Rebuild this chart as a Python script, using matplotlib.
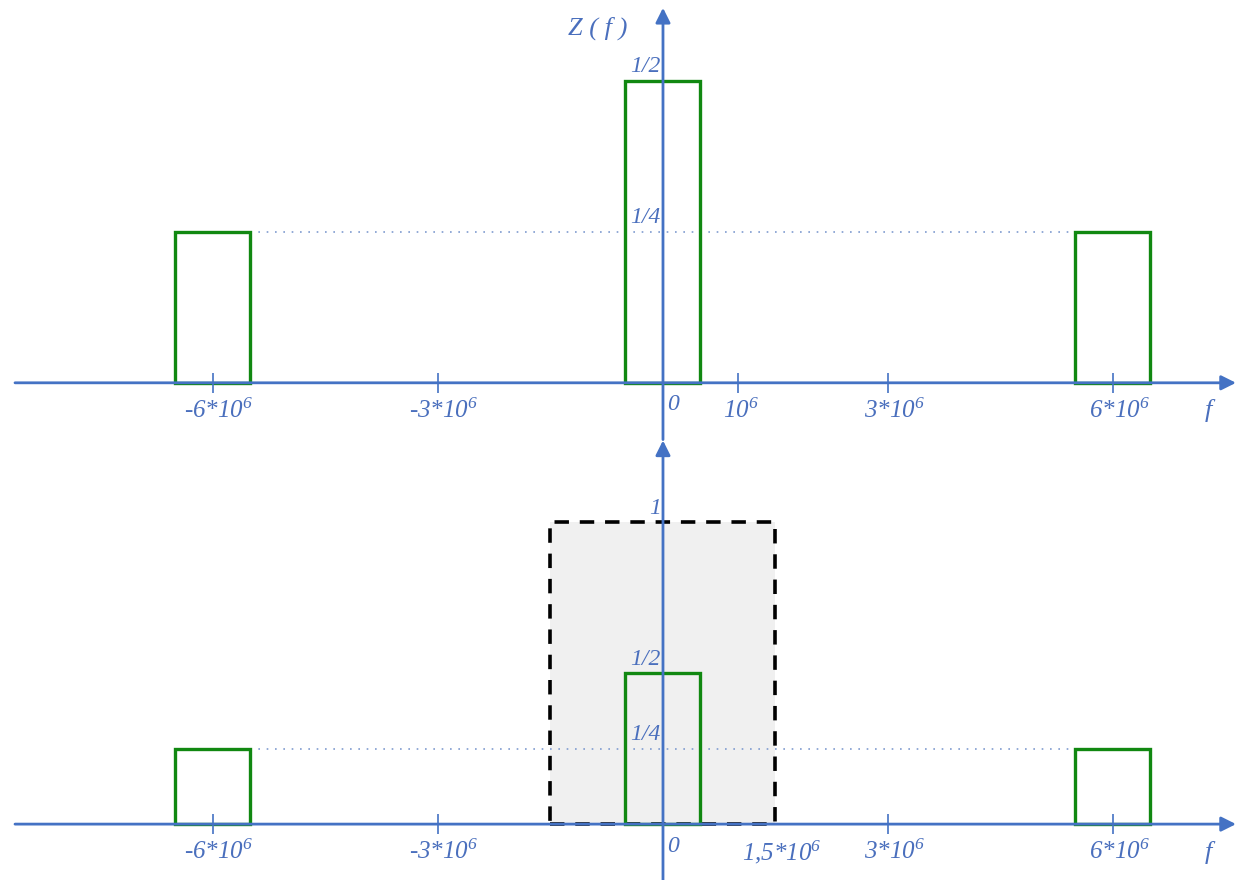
import matplotlib
matplotlib.use('Agg')
import matplotlib.pyplot as plt

plt.rcParams['mathtext.fontset'] = 'custom'
plt.rcParams['mathtext.rm'] = 'Liberation Serif:italic'
plt.rcParams['mathtext.it'] = 'Liberation Serif:italic'
plt.rcParams['mathtext.default'] = 'it'

# spectrum data
centres = [-6e6, 0, 6e6]
band_width = 1e6
heights_top = [0.25, 0.5, 0.25]
heights_bottom = [0.25, 0.5, 0.25]
filter_cut = 1.5e6
filter_gain = 1.0

# ticks and labels
tickmarks_top = [-6e6, -3e6, 1e6, 3e6, 6e6]
ticklabels_top = [(-6e6, r'-$6{*}10^{6}$'), (-3e6, r'-$3{*}10^{6}$'), (0, '0'),
                  (1e6, r'$10^{6}$'), (3e6, r'$3{*}10^{6}$'), (6e6, r'$6{*}10^{6}$')]
tickmarks_bottom = [-6e6, -3e6, 3e6, 6e6]
ticklabels_bottom = [(-6e6, r'-$6{*}10^{6}$'), (-3e6, r'-$3{*}10^{6}$'), (0, '0'),
                     (1.5e6, r'$1{,}5{*}10^{6}$'), (3e6, r'$3{*}10^{6}$'),
                     (6e6, r'$6{*}10^{6}$')]
ylabels_top = [(0.5, '1/2'), (0.25, '1/4')]
ylabels_bottom = [(1.0, '1'), (0.5, '1/2'), (0.25, '1/4')]

BLUE = '#4472C4'
TXT = '#4a6fbd'
GREEN = '#118811'
FONT = ['Liberation Serif', 'DejaVu Serif']

fig = plt.figure(figsize=(12.38, 8.8), dpi=100)
h = 445 / 880
ax1 = fig.add_axes([0, 1 - h, 1, h])
ax2 = fig.add_axes([0, 0, 1, h])

XL = (-8.84e6, 7.667e6)
ax1.set_xlim(*XL)
ax1.set_ylim(-0.103, 0.634)
ax2.set_xlim(*XL)
ax2.set_ylim(-0.185, 1.288)


def draw_panel(ax, heights, tickmarks, ticklabels, ylabels, ytip, ybot, tick_len):
    ax.axis('off')
    ax.bar(centres, heights, width=band_width, fill=False, edgecolor=GREEN,
           linewidth=2.4, zorder=3)
    ax.plot([centres[0] + band_width / 2, centres[-1] - band_width / 2],
            [heights[0], heights[-1]], color='#7f9bd0', linestyle=(0, (1, 4)),
            linewidth=1.2, zorder=2)
    # axes with arrows
    ax.annotate('', xy=(7.64e6, 0), xytext=(-8.64e6, 0),
                arrowprops=dict(arrowstyle='-|>', color=BLUE, lw=2,
                                mutation_scale=22, shrinkA=0, shrinkB=0), zorder=5)
    ax.annotate('', xy=(0, ytip), xytext=(0, ybot),
                arrowprops=dict(arrowstyle='-|>', color=BLUE, lw=2,
                                mutation_scale=22, shrinkA=0, shrinkB=0), zorder=5)
    ax.vlines(tickmarks, -tick_len, tick_len, color=BLUE, linewidth=1.2, zorder=5)
    for x, lab in ticklabels:
        if x == 0:
            ax.annotate(lab, xy=(x, 0), xytext=(4, -22), textcoords='offset pixels',
                        ha='left', va='center', fontsize=17, style='italic',
                        color=TXT, family=FONT)
        else:
            ax.annotate(lab, xy=(x, 0), xytext=(6 if '*' in lab else 3, -28),
                        textcoords='offset pixels', ha='center', va='center',
                        fontsize=18, style='italic', color=TXT, family=FONT)
    ax.annotate('f', xy=(XL[1], 0), xytext=(-30, -28), textcoords='offset pixels',
                ha='center', va='center', fontsize=19, style='italic',
                color=TXT, family=FONT)
    for y, lab in ylabels:
        ax.annotate(lab, xy=(0, y), xytext=(-2, 14), textcoords='offset pixels',
                    ha='right', va='center', fontsize=17, style='italic',
                    color=TXT, family=FONT)


# top panel
draw_panel(ax1, heights_top, tickmarks_top, ticklabels_top, ylabels_top,
           0.621, -0.094, 0.0166)
ax1.annotate('Z ( f )', xy=(0, 0.621), xytext=(-65, -20), textcoords='offset pixels',
             ha='center', va='center', fontsize=19, style='italic',
             color=TXT, family=FONT)

# bottom panel with ideal low-pass filter
ax2.bar(0, filter_gain, width=2 * filter_cut, color='#f0f0f0', edgecolor='black',
        linestyle=(0, (4, 3)), linewidth=2.6, zorder=1)
draw_panel(ax2, heights_bottom, tickmarks_bottom, ticklabels_bottom, ylabels_bottom,
           1.27, -0.2, 0.033)

fig.savefig('out.png', dpi=100)
